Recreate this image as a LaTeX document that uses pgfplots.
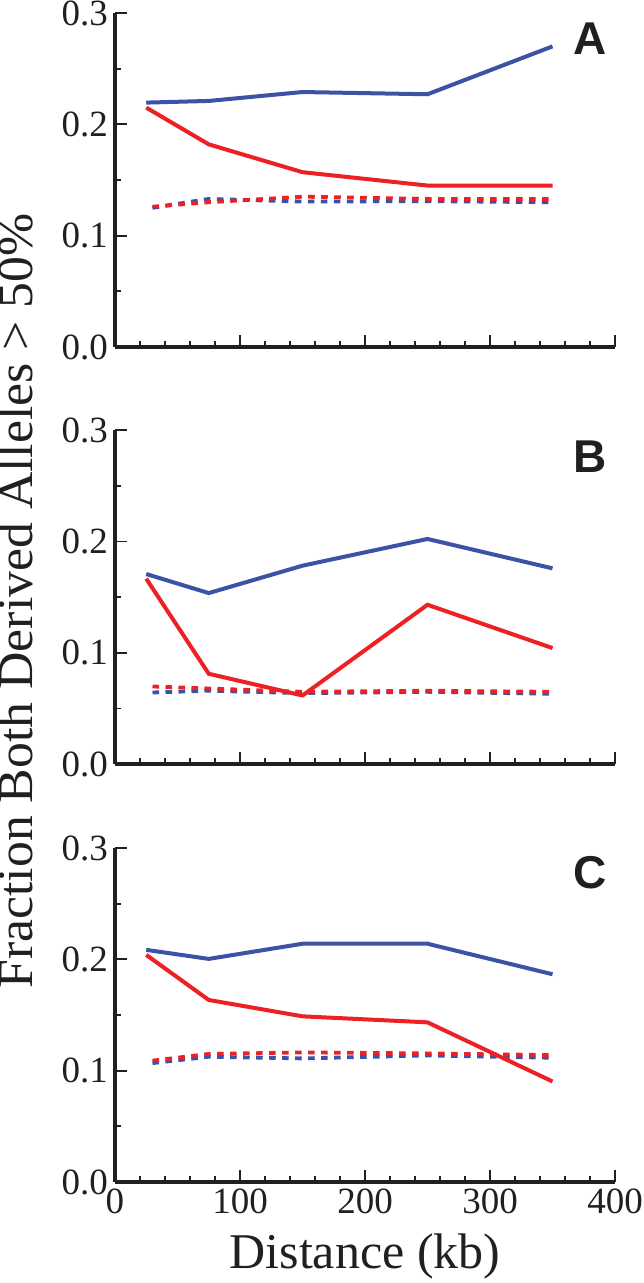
\documentclass[border=0pt]{standalone}
\usepackage{fontspec}
\setmainfont{Liberation Serif}
\newfontfamily\panelfont{Liberation Sans}
\usepackage{graphicx}
\usepackage{pgfplots}
\pgfplotsset{compat=1.18}
\definecolor{myblue}{RGB}{59,83,164}
\definecolor{myred}{RGB}{237,32,36}
\definecolor{axgray}{RGB}{35,31,32}
\pgfplotsset{panel/.style={
  width=250pt, height=167pt, scale only axis,
  xmin=0, xmax=400, ymin=0, ymax=0.3,
  axis x line=bottom, axis y line=left,
  axis line style={axgray, line width=2.2pt, -},
  xtick={0,100,200,300,400}, minor x tick num=4,
  ytick={0,0.1,0.2,0.3}, minor y tick num=1,
  tick align=inside, major tick length=6pt, minor tick length=3.2pt,
  every tick/.style={axgray, line width=0.9pt},
  yticklabel style={/pgf/number format/.cd, fixed, fixed zerofill, precision=1},
  tick label style={font=\fontsize{18.5}{20}\selectfont, text=axgray},
  /pgf/number format/assume math mode=true,
  clip=false,
}}
\tikzset{
solidb/.style={myblue, line width=2pt},
solidr/.style={myred, line width=2pt},
dotb/.style={myblue, line width=1.9pt, dash pattern=on 3.3pt off 3.2pt},
dotr/.style={myred, line width=1.9pt, dash pattern=on 3.3pt off 3.2pt},
letter/.style={font=\panelfont\bfseries\fontsize{23}{26}\selectfont, text=axgray},
}
\begin{document}
\begin{tikzpicture}
\path[use as bounding box] (-57.5pt,-50.5pt) rectangle (264pt,591pt);
% Panel A
\begin{axis}[panel, at={(0pt,417.5pt)}, xticklabels={}]
\addplot[dotb] coordinates {(30,0.125) (75,0.133) (150,0.1306) (250,0.131) (350,0.130)};
\addplot[dotr] coordinates {(30,0.126) (75,0.130) (150,0.135) (250,0.133) (350,0.133)};
\addplot[solidb] coordinates {(25,0.2195) (75,0.221) (150,0.229) (250,0.227) (350,0.270)};
\addplot[solidr] coordinates {(25,0.215) (75,0.182) (150,0.157) (250,0.145) (350,0.145)};
\node[letter] at (axis cs:380,0.277) {A};
\end{axis}
% Panel B
\begin{axis}[panel, at={(0pt,208.9pt)}, xticklabels={}]
\addplot[dotb] coordinates {(30,0.0644) (75,0.066) (150,0.0638) (250,0.065) (350,0.0632)};
\addplot[dotr] coordinates {(30,0.0698) (75,0.068) (150,0.065) (250,0.066) (350,0.065)};
\addplot[solidb] coordinates {(25,0.1708) (75,0.1537) (150,0.1783) (250,0.2023) (350,0.1759)};
\addplot[solidr] coordinates {(25,0.1666) (75,0.0812) (150,0.0617) (250,0.1432) (350,0.1043)};
\node[letter] at (axis cs:380,0.276) {B};
\end{axis}
% Panel C
\begin{axis}[panel, at={(0pt,0pt)},
  xlabel={Distance (kb)},
  xlabel style={font=\fontsize{25}{29}\selectfont, text=axgray, yshift=-3pt}]
\addplot[dotb] coordinates {(30,0.1068) (75,0.1125) (150,0.111) (250,0.1137) (350,0.1116)};
\addplot[dotr] coordinates {(30,0.109) (75,0.115) (150,0.1164) (250,0.1155) (350,0.114)};
\addplot[solidb] coordinates {(25,0.2085) (75,0.2004) (150,0.214) (250,0.214) (350,0.1866)};
\addplot[solidr] coordinates {(25,0.204) (75,0.1635) (150,0.1488) (250,0.1434) (350,0.0903)};
\node[letter] at (axis cs:380,0.278) {C};
\end{axis}
\node[rotate=90, anchor=base, inner sep=0pt, font=\fontsize{25}{29}\selectfont, text=axgray] at (-41pt,290.5pt) {\scalebox{1.035}[1]{Fraction Both Derived Alleles > 50\%}};
\end{tikzpicture}
\end{document}
